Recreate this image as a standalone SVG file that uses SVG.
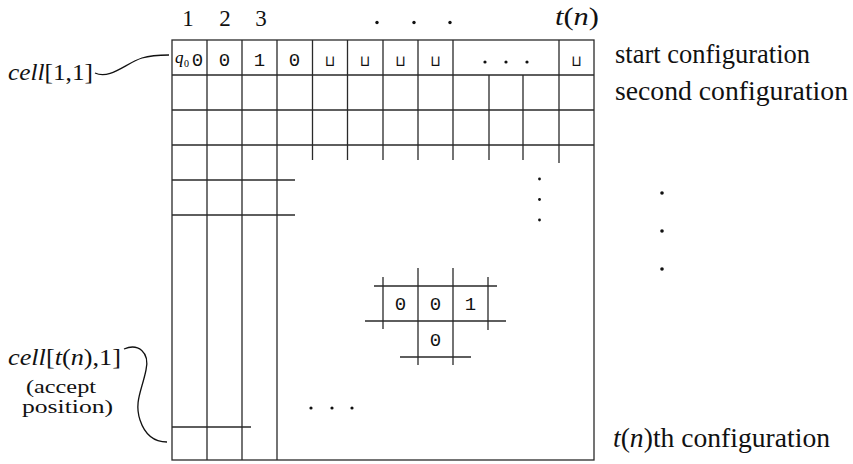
<svg xmlns="http://www.w3.org/2000/svg" width="853" height="464" viewBox="0 0 853 464">
<style>
.g{stroke:#2a2a2a;stroke-width:1.3;fill:none}
.c{stroke:#111;stroke-width:1.3;fill:none}
.tt{font-family:'Liberation Mono',monospace;font-size:19px;fill:#111;text-anchor:middle}
.b{font-family:'DejaVu Sans Mono',monospace;font-size:15px;fill:#111;text-anchor:middle}
.d{fill:#111}
</style>
<g id="grid">
<rect class="g" x="172" y="40" width="422" height="420"/>
<path class="g" d="M172 75H594M172 110H594M172 145H594M172 180H295M172 215H295M172 427H251"/>
<path class="g" d="M207 40V460M242 40V460M277 40V460"/>
<path class="g" d="M312.5 40V160M347.5 40V160M383 40V160M418 40V160M453 40V160M559 40V163M489 75V160M523 75V160"/>
</g>
<g id="header" font-family="Liberation Serif, serif" fill="#111">
<text font-size="23" x="188" y="26" text-anchor="middle">1</text>
<text font-size="23" x="225" y="26" text-anchor="middle">2</text>
<text font-size="23" x="261" y="26" text-anchor="middle">3</text>
<circle class="d" cx="377" cy="22.5" r="1.7"/>
<circle class="d" cx="414" cy="22.5" r="1.7"/>
<circle class="d" cx="450" cy="22.5" r="1.7"/>
<text font-size="26" x="555" y="25" textLength="44" lengthAdjust="spacingAndGlyphs"><tspan font-style="italic">t</tspan>(<tspan font-style="italic">n</tspan>)</text>
</g>
<g id="row1">
<text font-family="Liberation Serif, serif" font-style="italic" font-size="17" x="175" y="63">q</text>
<text font-family="Liberation Serif, serif" font-size="10" x="184" y="67">0</text>
<text class="tt" x="197.5" y="66">0</text>
<text class="tt" x="224.5" y="66">0</text>
<text class="tt" x="259.5" y="66">1</text>
<text class="tt" x="294.5" y="66">0</text>
<text class="b" x="330" y="66">⊔</text>
<text class="b" x="365" y="66">⊔</text>
<text class="b" x="400.5" y="66">⊔</text>
<text class="b" x="435.5" y="66">⊔</text>
<text class="b" x="576.5" y="66">⊔</text>
<circle class="d" cx="485" cy="62" r="1.6"/>
<circle class="d" cx="506" cy="62" r="1.6"/>
<circle class="d" cx="527" cy="62" r="1.6"/>
</g>
<g id="dots">
<circle class="d" cx="539.5" cy="179" r="1.4"/>
<circle class="d" cx="539.5" cy="199.5" r="1.4"/>
<circle class="d" cx="539.5" cy="220" r="1.4"/>
<circle class="d" cx="662" cy="193" r="1.8"/>
<circle class="d" cx="662" cy="231" r="1.8"/>
<circle class="d" cx="662" cy="269" r="1.8"/>
<circle class="d" cx="311" cy="408" r="1.6"/>
<circle class="d" cx="332" cy="408" r="1.6"/>
<circle class="d" cx="352" cy="408" r="1.6"/>
</g>
<g id="fragment">
<path class="g" d="M374 286H497M365 321H506M400 357H471M383 277V329M418 268V365M453 268V365M488 277V330"/>
<text class="tt" x="400.5" y="310">0</text>
<text class="tt" x="435.5" y="310">0</text>
<text class="tt" x="470.5" y="310">1</text>
<text class="tt" x="435.5" y="346">0</text>
</g>
<g id="labels" font-family="Liberation Serif, serif" fill="#111">
<text font-size="24" x="8" y="80" textLength="85" lengthAdjust="spacingAndGlyphs"><tspan font-style="italic">cell</tspan>[1,1]</text>
<text font-size="24" x="8" y="365" textLength="113" lengthAdjust="spacingAndGlyphs"><tspan font-style="italic">cell</tspan>[<tspan font-style="italic">t</tspan>(<tspan font-style="italic">n</tspan>),1]</text>
<text font-size="19" x="26" y="393" textLength="70" lengthAdjust="spacingAndGlyphs">(accept</text>
<text font-size="19" x="22" y="413" textLength="91" lengthAdjust="spacingAndGlyphs">position)</text>
<text font-size="27" x="615" y="63" textLength="195" lengthAdjust="spacingAndGlyphs">start configuration</text>
<text font-size="27" x="615" y="100" textLength="233" lengthAdjust="spacingAndGlyphs">second configuration</text>
<text font-size="27" x="613" y="447" textLength="217" lengthAdjust="spacingAndGlyphs"><tspan font-style="italic">t</tspan>(<tspan font-style="italic">n</tspan>)th  configuration</text>
</g>
<g id="connectors">
<path class="c" d="M95 73C110 80 126 63 142 58C152 55 160 55 169 55"/>
<path class="c" d="M124 349C138 343 150 352 146 370C142 390 134 402 140 420C145 435 155 442 167 442"/>
</g>
</svg>
